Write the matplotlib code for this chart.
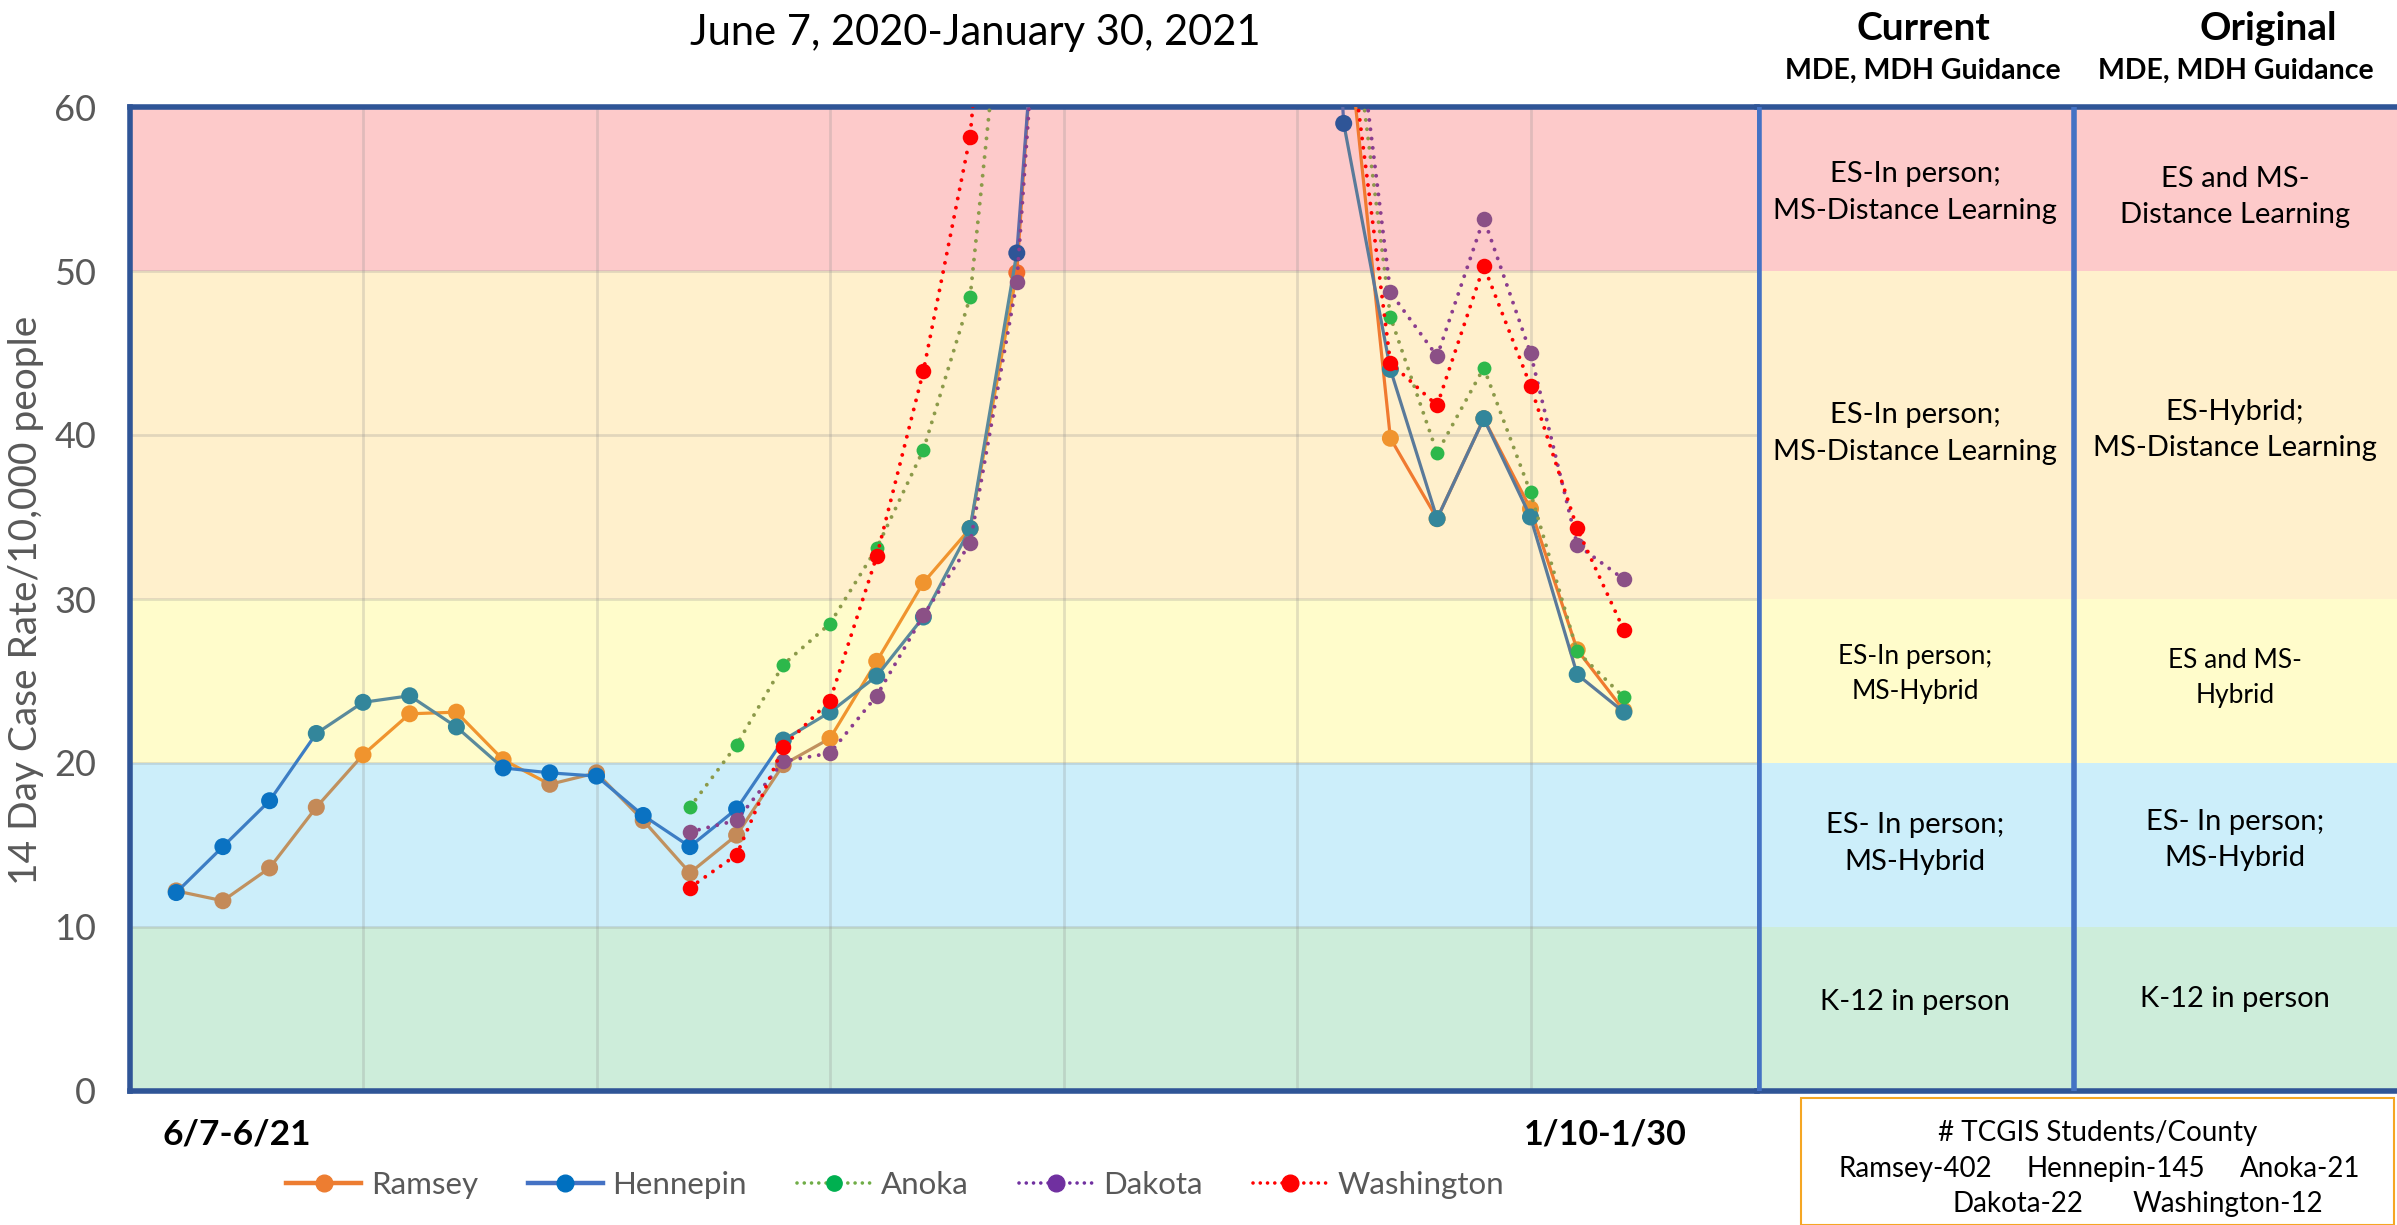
import numpy as np
import matplotlib
matplotlib.use("Agg")
import matplotlib.pyplot as plt
from matplotlib.lines import Line2D
from matplotlib.patches import Rectangle

plt.rcParams['font.family'] = ['Lato', 'DejaVu Sans']

nan = np.nan

# 14 day case rate per 10,000 people, one point per rolling window
# window 0 = 6/7-6/21 ... window 31 = 1/10-1/30 (values above 60 run off the chart)
ramsey = [12.2, 11.6, 13.6, 17.3, 20.5, 23.0, 23.1, 20.2, 18.7, 19.4, 16.5, 13.3, 15.6, 19.9,
          21.5, 26.2, 31.0, 34.3, 49.9, 92, 100, 105, 104, 98, 85, 67,
          39.8, 34.9, 41.0, 35.5, 26.9, 23.2]
hennepin = [12.1, 14.9, 17.7, 21.8, 23.7, 24.1, 22.2, 19.7, 19.4, 19.2, 16.8, 14.9, 17.2, 21.4,
            23.1, 25.3, 28.9, 34.3, 51.1, 89, 100, 104, 103, 100, 110,
            59.0, 44.0, 34.9, 41.0, 35.0, 25.4, 23.1]
anoka = [nan] * 11 + [17.3, 21.1, 26.0, 28.5, 33.1, 39.1, 48.4, 76, 95, 100, 102, 98, 90, 85, 70,
                      47.2, 38.9, 44.1, 36.5, 26.8, 24.0]
dakota = [nan] * 11 + [15.8, 16.5, 20.1, 20.6, 24.1, 29.0, 33.4, 49.3, 90, 98, 102, 101, 96, 88, 72,
                       48.7, 44.8, 53.2, 45.0, 33.3, 31.2]
washington = [nan] * 11 + [12.4, 14.4, 21.0, 23.8, 32.6, 43.9, 58.2, 90, 97, 101, 100, 95, 85, 78, 67,
                           44.4, 41.8, 50.3, 43.0, 34.3, 28.1]

first_label = "6/7-6/21"
last_label = "1/10-1/30"

band_edges = [0, 10, 20, 30, 50, 60]
band_colors = ['#CDEDDA', '#CCEEFA', '#FFFCCB', '#FFF0CC', '#FDCACA']

current_guidance = ['K-12 in person', 'ES- In person;\nMS-Hybrid', 'ES-In person;\nMS-Hybrid',
                    'ES-In person;\nMS-Distance Learning', 'ES-In person;\nMS-Distance Learning']
original_guidance = ['K-12 in person', 'ES- In person;\nMS-Hybrid', 'ES and MS-\nHybrid',
                     'ES-Hybrid;\nMS-Distance Learning', 'ES and MS-\nDistance Learning']
current_y = [5.4, 15.1, 25.4, 40.1, 54.8]
original_y = [5.6, 15.3, 25.2, 40.3, 54.5]

students_title = '# TCGIS Students/County'
students_row1 = ['Ramsey-402', 'Hennepin-145', 'Anoka-21']
students_row2 = ['Dakota-22', 'Washington-12']

# colours of the two overlaid copies of the Ramsey / Hennepin lines
BROWN, ORANGE, RED_OR = '#C48A58', '#F0942E', '#F26A2C'
BLUE, TEAL, NAVY = '#0A72C2', '#33869B', '#2F5597'
ramsey_mk = [BROWN] * 4 + [ORANGE] * 4 + [BROWN] * 6 + [ORANGE] * 4 + [RED_OR] + [ORANGE] * 13
ramsey_seg = ['#C0915F'] * 4 + ['#F0942E'] * 4 + ['#C0915F'] * 6 + ['#F0942E'] * 4 + ['#F07A30'] * 14
hennepin_mk = [BLUE] * 3 + [TEAL] * 4 + [BLUE] * 6 + [TEAL] * 5 + [NAVY] * 8 + [TEAL] * 6
hennepin_mk[25] = NAVY
hennepin_seg = ['#3C7DC4'] * 3 + ['#5A8A9C'] * 4 + ['#3C7DC4'] * 6 + ['#5A8A9C'] * 5 + ['#5F6BA8'] * 7 + ['#5A7A9A'] * 6

W, H = 2397, 1225
fig = plt.figure(figsize=(W / 100, H / 100), dpi=100)


def fx(px):
    return px / W


def fy(py):
    return 1 - py / H


TOP, BOT, LEFT, SEP1, SEP2 = 107, 1091, 129.5, 1757, 2074

ax = fig.add_axes([fx(LEFT), fy(BOT), fx(SEP1 - LEFT), (BOT - TOP) / H])
ax.set_xlim(-1, 33.85)
ax.set_ylim(0, 60)
for i in range(len(band_colors)):
    ax.axhspan(band_edges[i], band_edges[i + 1], color=band_colors[i], lw=0, zorder=0)

ax.set_yticks(range(0, 61, 10))
ax.set_xticks([4, 9, 14, 19, 24, 29])
ax.grid(True, color='#8C8C8C', alpha=0.25, lw=2, zorder=1)
ax.tick_params(axis='y', length=0, labelsize=26, labelcolor='#595959', pad=24)
ax.tick_params(axis='x', length=0, labelbottom=False)
for s in ['left', 'top', 'bottom']:
    ax.spines[s].set_color('#2F5597')
    ax.spines[s].set_linewidth(4)
ax.spines['right'].set_visible(False)


def solid_series(y, seg_colors, mk_colors, z):
    x = np.arange(len(y))
    for i in range(len(y) - 1):
        ax.plot(x[i:i + 2], y[i:i + 2], color=seg_colors[i], lw=2.3, zorder=z,
                solid_capstyle='round')
    ax.scatter(x, y, s=150, c=mk_colors, zorder=z + 0.5, linewidths=0)


def dotted_series(y, line_color, mk_color, ms, z):
    x = np.arange(len(y))
    ax.plot(x, y, color=line_color, lw=2.8, ls=(0, (0.01, 2.4)), dash_capstyle='round', zorder=z)
    ax.scatter(x, y, s=ms, c=mk_color, zorder=z + 0.5, linewidths=0)


solid_series(ramsey, ramsey_seg, ramsey_mk, 3)
solid_series(hennepin, hennepin_seg, hennepin_mk, 4)
dotted_series(anoka, '#8C9A4A', '#2DB84B', 100, 5)
dotted_series(dakota, '#8B3D8E', '#8B5086', 125, 6)
dotted_series(washington, '#FF0000', '#FF0000', 125, 7)

# guidance columns on the right
axc = fig.add_axes([fx(SEP1), fy(BOT), fx(W - SEP1), (BOT - TOP) / H])
axc.set_xlim(SEP1, W)
axc.set_ylim(0, 60)
for i in range(len(band_colors)):
    axc.axhspan(band_edges[i], band_edges[i + 1], color=band_colors[i], lw=0, zorder=0)
axc.axvline(SEP1 + 2, color='#4472C4', lw=4, zorder=3)
axc.axvline(SEP2, color='#4472C4', lw=4, zorder=3)
axc.set_xticks([])
axc.set_yticks([])
for s in ['top', 'bottom']:
    axc.spines[s].set_color('#2F5597')
    axc.spines[s].set_linewidth(4)
axc.spines['left'].set_visible(False)
axc.spines['right'].set_visible(False)
for i in range(len(current_guidance)):
    fs = 19 if i == 2 else 21
    axc.text(1915, current_y[i], current_guidance[i], ha='center', va='center', fontsize=fs,
             linespacing=1.5)
    axc.text(2235, original_y[i], original_guidance[i], ha='center', va='center', fontsize=fs,
             linespacing=1.5)

# headings
fig.text(fx(975), fy(33), 'June 7, 2020-January 30, 2021', ha='center', va='center', fontsize=30)
fig.text(fx(1923), fy(28), 'Current', ha='center', va='center', fontsize=28, fontweight='bold')
fig.text(fx(1923), fy(71), 'MDE, MDH Guidance', ha='center', va='center', fontsize=20.5, fontweight='bold')
fig.text(fx(2268), fy(28), 'Original', ha='center', va='center', fontsize=28, fontweight='bold')
fig.text(fx(2236), fy(71), 'MDE, MDH Guidance', ha='center', va='center', fontsize=20.5, fontweight='bold')

fig.text(fx(26), fy(600), '14 Day Case Rate/10,000 people', rotation=90, ha='center', va='center',
         fontsize=28, color='#595959')
fig.text(fx(163), fy(1134), first_label, ha='left', va='center', fontsize=25.5, fontweight='bold')
fig.text(fx(1524), fy(1134), last_label, ha='left', va='center', fontsize=24.5, fontweight='bold')

# legend
handles = [
    Line2D([], [], color='#ED7D31', lw=3.2, marker='o', ms=12, mfc='#ED7D31', mec='#ED7D31'),
    Line2D([], [], color='#4472C4', lw=3.2, marker='o', ms=12, mfc='#0070C0', mec='#0070C0'),
    Line2D([], [], color='#70AD47', lw=2.6, ls=(0, (0.01, 2)), dash_capstyle='round',
           marker='o', ms=11, mfc='#00B050', mec='#00B050'),
    Line2D([], [], color='#7030A0', lw=2.6, ls=(0, (0.01, 2)), dash_capstyle='round',
           marker='o', ms=12, mfc='#7030A0', mec='#7030A0'),
    Line2D([], [], color='#FF0000', lw=2.6, ls=(0, (0.01, 2)), dash_capstyle='round',
           marker='o', ms=12, mfc='#FF0000', mec='#FF0000'),
]
fig.legend(handles, ['Ramsey', 'Hennepin', 'Anoka', 'Dakota', 'Washington'], loc='center',
           bbox_to_anchor=(fx(895), fy(1185)), ncol=5, frameon=False, fontsize=22.5,
           labelcolor='#595959', handlelength=2.4, columnspacing=1.6, handletextpad=0.3)

# student count box
box = Rectangle((fx(1801), 0), fx(2394) - fx(1801), fy(1098), transform=fig.transFigure,
                fill=False, edgecolor='#F5A623', lw=1.5)
fig.add_artist(box)
fig.text(fx(2098), fy(1133), students_title, ha='center', va='center', fontsize=20)
for name, cx in zip(students_row1, [1915, 2116, 2300]):
    fig.text(fx(cx), fy(1169), name, ha='center', va='center', fontsize=20)
for name, cx in zip(students_row2, [2018, 2228]):
    fig.text(fx(cx), fy(1204), name, ha='center', va='center', fontsize=20)

fig.savefig('out.png', dpi=100)
